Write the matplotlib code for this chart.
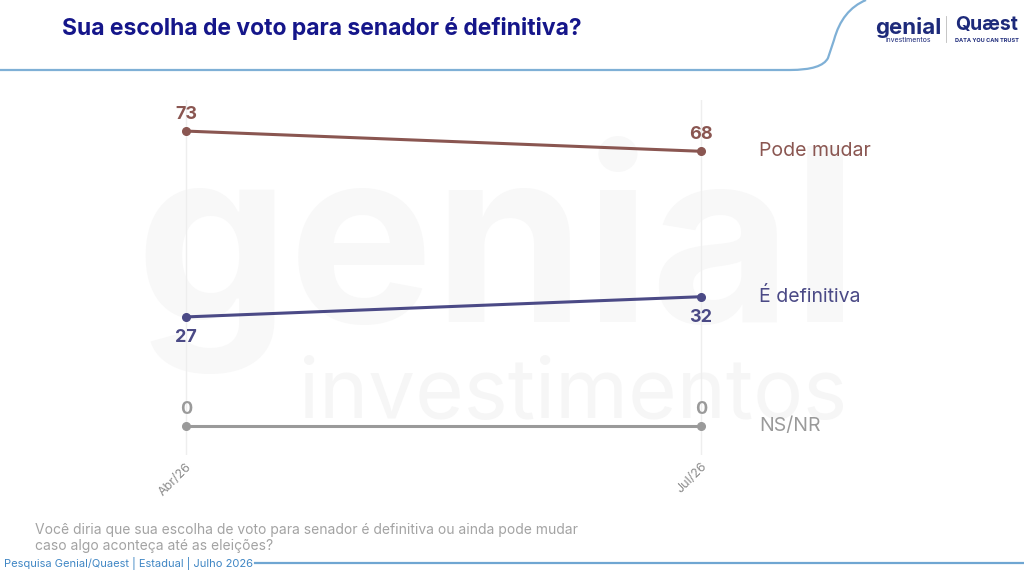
import matplotlib.pyplot as plt
import numpy as np
from matplotlib.lines import Line2D
from matplotlib.path import Path
from matplotlib.patches import PathPatch

periods = ["Abr/26", "Jul/26"]
series_names = ["Pode mudar", "É definitiva", "NS/NR"]
pode_mudar = [73, 68]
e_definitiva = [27, 32]
ns_nr = [0, 0]
colors = ["#8A5651", "#4B4A86", "#9A9A9A"]

title = "Sua escolha de voto para senador é definitiva?"
question = ("Você diria que sua escolha de voto para senador é definitiva ou ainda pode mudar\n"
            "caso algo aconteça até as eleições?")
footer = "Pesquisa Genial/Quaest | Estadual | Julho 2026"

plt.rcParams["font.family"] = ["Inter", "DejaVu Sans"]

W, H = 1024, 574
fig = plt.figure(figsize=(W / 100, H / 100), dpi=100)

# faint watermark, behind the chart
fig.text(0.485, 0.555, "genial", fontsize=175, color="#f8f8f8", ha="center", va="center",
         fontweight="bold", zorder=-5)
fig.text(0.56, 0.31, "investimentos", fontsize=60, color="#f6f6f6", ha="center", va="center",
         zorder=-5)

# axes: data x=0 at px 186, x=1 at px 701; y=0 at px 426, 4.04 px/unit
pad = 0.05
unit = 515
left = 186 - pad * unit
right = 701 + pad * unit
top_px, bot_px = 100, 455
ppu = 4.04
ax = fig.add_axes([left / W, 1 - bot_px / H, (right - left) / W, (bot_px - top_px) / H])
ax.set_zorder(2)
ax.patch.set_alpha(0)
ax.set_xlim(-pad, 1 + pad)
ax.set_ylim(-(bot_px - 426) / ppu, (426 - top_px) / ppu)
for s in ax.spines.values():
    s.set_visible(False)
ax.set_yticks([])
x = np.arange(len(periods))
ax.set_xticks(x)
ax.set_xticklabels(periods, rotation=45, ha="right", rotation_mode="anchor",
                   fontsize=9, color="#8a8a8a")
ax.tick_params(axis="x", length=0, pad=4)
ax.grid(axis="x", color="#eeeeee", linewidth=1)

all_vals = [pode_mudar, e_definitiva, ns_nr]
for vals, name, c in zip(all_vals, series_names, colors):
    ax.plot(x, vals, color=c, linewidth=2.2, marker="o", markersize=5.5, clip_on=False, zorder=3)
    for xi, v in zip(x, vals):
        below = name == "É definitiva"
        off = -21 if below else 6
        ax.annotate(str(v), (xi, v), xytext=(0, off), textcoords="offset points",
                    ha="center", va="bottom", fontsize=13, fontweight="bold", color=c)
    ax.annotate(name, (1, vals[-1]), xytext=(42, 0), textcoords="offset points",
                ha="left", va="center", fontsize=14, color=c, annotation_clip=False)

# title
fig.text(62 / W, 1 - 29 / H, title, fontsize=16.5, fontweight="bold", color="#15168a",
         ha="left", va="center")

# header line with curve
verts = [(0, 1 - 70 / H), (790 / W, 1 - 70 / H), (822 / W, 1 - 70 / H), (828 / W, 1 - 58 / H),
         (834 / W, 1 - 40 / H), (842 / W, 1 - 10 / H), (866 / W, 1.0)]
codes = [Path.MOVETO, Path.LINETO, Path.CURVE3, Path.CURVE3, Path.LINETO, Path.CURVE3, Path.CURVE3]
fig.patches.append(PathPatch(Path(verts, codes), transform=fig.transFigure, fill=False,
                             edgecolor="#7fb0d6", linewidth=1.6))

# logos (text)
fig.text(908 / W, 1 - 27 / H, "genial", fontsize=16, color="#1d2a7a", ha="center",
         va="center", fontweight="bold")
fig.text(908 / W, 1 - 40 / H, "investimentos", fontsize=5, color="#1d2a7a", ha="center",
         va="center")
fig.add_artist(Line2D([946 / W, 946 / W], [1 - 16 / H, 1 - 42 / H], color="#bbbbbb",
                      linewidth=0.6))
fig.text(987 / W, 1 - 25 / H, "Quæst", fontsize=14, color="#1d2a7a", ha="center",
         va="center", fontweight="bold")
fig.text(987 / W, 1 - 40 / H, "DATA YOU CAN TRUST", fontsize=4, color="#1d2a7a",
         ha="center", va="center", fontweight="bold")

# question and footer
fig.text(35 / W, 1 - 538 / H, question, fontsize=10, color="#a3a3a3", ha="left",
         va="center", linespacing=1.15)
fig.text(4 / W, 1 - 563 / H, footer, fontsize=8, color="#3f86c4", ha="left", va="center")
fig.add_artist(Line2D([255 / W, 1.0], [1 - 563 / H, 1 - 563 / H], color="#6fa6d2",
                      linewidth=1.6))

fig.savefig("out.png", dpi=100, facecolor="white")
